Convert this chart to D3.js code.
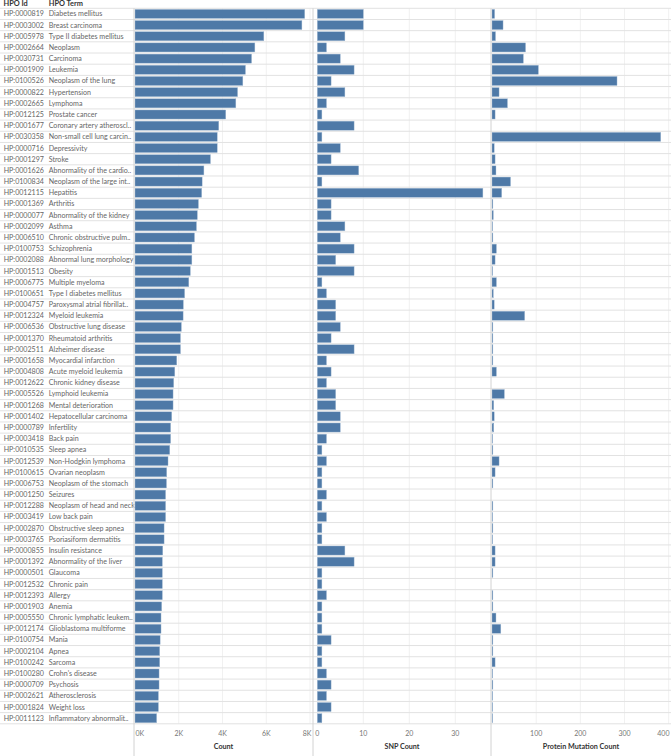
<!DOCTYPE html>
<html>
<head>
<meta charset="utf-8">
<script src="https://cdn.jsdelivr.net/npm/d3@7"></script>
<style>
  body { margin: 0; background: #fff; }
  text { font-family: Lato, "Open Sans", sans-serif; }
</style>
</head>
<body>
<svg id="chart" width="671" height="756"></svg>
<script>
const hpoIds = ['HP:0000819', 'HP:0003002', 'HP:0005978', 'HP:0002664', 'HP:0030731', 'HP:0001909', 'HP:0100526', 'HP:0000822',
    'HP:0002665', 'HP:0012125', 'HP:0001677', 'HP:0030358', 'HP:0000716', 'HP:0001297', 'HP:0001626', 'HP:0100834',
    'HP:0012115', 'HP:0001369', 'HP:0000077', 'HP:0002099', 'HP:0006510', 'HP:0100753', 'HP:0002088', 'HP:0001513',
    'HP:0006775', 'HP:0100651', 'HP:0004757', 'HP:0012324', 'HP:0006536', 'HP:0001370', 'HP:0002511', 'HP:0001658',
    'HP:0004808', 'HP:0012622', 'HP:0005526', 'HP:0001268', 'HP:0001402', 'HP:0000789', 'HP:0003418', 'HP:0010535',
    'HP:0012539', 'HP:0100615', 'HP:0006753', 'HP:0001250', 'HP:0012288', 'HP:0003419', 'HP:0002870', 'HP:0003765',
    'HP:0000855', 'HP:0001392', 'HP:0000501', 'HP:0012532', 'HP:0012393', 'HP:0001903', 'HP:0005550', 'HP:0012174',
    'HP:0100754', 'HP:0002104', 'HP:0100242', 'HP:0100280', 'HP:0000709', 'HP:0002621', 'HP:0001824', 'HP:0011123']

const hpoTerms = ['Diabetes mellitus', 'Breast carcinoma', 'Type II diabetes mellitus', 'Neoplasm', 'Carcinoma', 'Leukemia',
    'Neoplasm of the lung', 'Hypertension', 'Lymphoma', 'Prostate cancer', 'Coronary artery atheroscl..',
    'Non-small cell lung carcin..', 'Depressivity', 'Stroke', 'Abnormality of the cardio..', 'Neoplasm of the large int..',
    'Hepatitis', 'Arthritis', 'Abnormality of the kidney', 'Asthma', 'Chronic obstructive pulm..', 'Schizophrenia',
    'Abnormal lung morphology', 'Obesity', 'Multiple myeloma', 'Type I diabetes mellitus', 'Paroxysmal atrial fibrillat..',
    'Myeloid leukemia', 'Obstructive lung disease', 'Rheumatoid arthritis', 'Alzheimer disease', 'Myocardial infarction',
    'Acute myeloid leukemia', 'Chronic kidney disease', 'Lymphoid leukemia', 'Mental deterioration',
    'Hepatocellular carcinoma', 'Infertility', 'Back pain', 'Sleep apnea', 'Non-Hodgkin lymphoma', 'Ovarian neoplasm',
    'Neoplasm of the stomach', 'Seizures', 'Neoplasm of head and neck', 'Low back pain', 'Obstructive sleep apnea',
    'Psoriasiform dermatitis', 'Insulin resistance', 'Abnormality of the liver', 'Glaucoma', 'Chronic pain', 'Allergy',
    'Anemia', 'Chronic lymphatic leukem..', 'Glioblastoma multiforme', 'Mania', 'Apnea', 'Sarcoma', "Crohn's disease",
    'Psychosis', 'Atherosclerosis', 'Weight loss', 'Inflammatory abnormalit..']

const counts = [7760, 7630, 5890, 5480, 5330, 5050, 4930, 4690, 4610, 4150, 3830, 3760, 3760, 3450, 3150, 3070,
    3050, 2900, 2850, 2810, 2720, 2600, 2600, 2530, 2460, 2270, 2210, 2200, 2120, 2080, 2080, 1910,
    1820, 1770, 1740, 1740, 1680, 1630, 1630, 1590, 1510, 1450, 1440, 1400, 1400, 1400, 1330, 1330,
    1270, 1250, 1250, 1250, 1250, 1220, 1190, 1190, 1150, 1130, 1130, 1100, 1100, 1070, 1070, 990]

const snpCounts = [10, 10, 6, 2, 5, 8, 3, 6, 2, 1, 8, 1, 5, 3, 9, 1,
    36, 3, 3, 6, 5, 8, 4, 8, 1, 2, 4, 4, 5, 3, 8, 2,
    3, 2, 4, 4, 5, 5, 2, 1, 2, 1, 1, 2, 1, 2, 1, 1,
    6, 8, 1, 1, 2, 1, 1, 1, 3, 1, 1, 2, 3, 2, 3, 1]

const proteinCounts = [6, 25, 8, 76, 71, 105, 283, 16, 35, 7, 0, 382, 5, 7, 9, 42,
    22, 2, 3, 1, 2, 10, 7, 1, 10, 3, 5, 74, 2, 2, 2, 2,
    10, 0, 28, 4, 5, 4, 1, 2, 16, 7, 2, 0, 2, 1, 2, 1,
    7, 7, 2, 0, 2, 2, 9, 20, 2, 2, 7, 1, 2, 1, 1, 1]

const countTicks = [0, 2000, 4000, 6000, 8000]
const snpTicks = [0, 10, 20, 30]
const proteinTicks = [0, 100, 200, 300, 400]

const W = 671, H = 756
const ROW_TOP = 8.3, ROW_BOTTOM = 723.8
const BAR_COLOR = '#4e79a7'
const LINE_COLOR = '#e2e2e2'
const DIVIDER_COLOR = '#d2d2d2'
const GRID_COLOR = '#f1f1f1'

const rows = hpoIds.map((id, i) => ({
    id, term: hpoTerms[i], count: counts[i], snp: snpCounts[i], protein: proteinCounts[i]
}))

const svg = d3.select('#chart')

const y = d3.scaleBand()
    .domain(hpoIds)
    .range([ROW_TOP, ROW_BOTTOM])
    .paddingInner(0.19)
    .paddingOuter(0.095)
const step = y.step()

// panes: left/right edges plus the scale for each measure
const panes = [
    { key: 'count', title: 'Count', left: 134, right: 313, ticks: countTicks,
      x: d3.scaleLinear().domain([0, 8000]).range([135, 310]), fmt: d => d / 1000 + 'K', hideZero: false },
    { key: 'snp', title: 'SNP Count', left: 313, right: 491, ticks: snpTicks,
      x: d3.scaleLinear().domain([0, 30]).range([317.3, 455.3]), fmt: d => d, hideZero: false },
    { key: 'protein', title: 'Protein Mutation Count', left: 491, right: W, ticks: proteinTicks,
      x: d3.scaleLinear().domain([0, 400]).range([492, 668.7]), fmt: d => d, hideZero: true },
]

// Gridlines first so everything else sits on top
panes.forEach(p => {
    svg.append('g')
        .selectAll('line')
        .data(p.ticks.filter(t => t > 0))
        .join('line')
        .attr('x1', d => p.x(d)).attr('x2', d => p.x(d))
        .attr('y1', ROW_TOP).attr('y2', ROW_BOTTOM)
        .attr('stroke', GRID_COLOR)
        .attr('stroke-width', 1)
})

// Row separators across the whole table
svg.append('g')
    .selectAll('line')
    .data(d3.range(hpoIds.length + 1))
    .join('line')
    .attr('x1', 0).attr('x2', W)
    .attr('y1', i => ROW_TOP + i * step)
    .attr('y2', i => ROW_TOP + i * step)
    .attr('stroke', LINE_COLOR)
    .attr('stroke-width', 1)

// Headers
const header = svg.append('g')
    .attr('font-size', 7.4)
    .attr('font-weight', 'bold')
    .attr('fill', '#333')
header.append('text').attr('x', 3.5).attr('y', 6).text('HPO Id')
header.append('text').attr('x', 48.7).attr('y', 6).text('HPO Term')

// Row labels
const labels = svg.append('g')
    .attr('font-size', 7.1)
    .attr('fill', '#666')
labels.selectAll('text.id')
    .data(rows)
    .join('text')
    .attr('class', 'id')
    .attr('x', 3.7)
    .attr('y', d => y(d.id) + y.bandwidth() / 2)
    .attr('dy', '0.35em')
    .text(d => d.id)
labels.selectAll('text.term')
    .data(rows)
    .join('text')
    .attr('class', 'term')
    .attr('x', 48.7)
    .attr('y', d => y(d.id) + y.bandwidth() / 2)
    .attr('dy', '0.35em')
    .text(d => d.term)

// Bars
panes.forEach(p => {
    svg.append('g')
        .selectAll('rect')
        .data(rows.filter(d => d[p.key] > 0))
        .join('rect')
        .attr('x', p.x(0))
        .attr('y', d => y(d.id))
        .attr('width', d => Math.max(0.6, p.x(d[p.key]) - p.x(0)))
        .attr('height', y.bandwidth())
        .attr('fill', BAR_COLOR)
        .attr('stroke', '#a9bfd6')
        .attr('stroke-width', 0.4)
})

// Pane dividers
svg.append('g')
    .selectAll('line')
    .data(panes)
    .join('line')
    .attr('x1', p => p.left).attr('x2', p => p.left)
    .attr('y1', ROW_TOP).attr('y2', H)
    .attr('stroke', DIVIDER_COLOR)
    .attr('stroke-width', 1)

// Axes at the bottom
panes.forEach(p => {
    const g = svg.append('g')
    g.selectAll('text')
        .data(p.ticks.filter(t => !(p.hideZero && t === 0)))
        .join('text')
        .attr('font-size', 7)
        .attr('fill', '#777')
        .attr('y', 736)
        .attr('text-anchor', 'middle')
        .text(p.fmt)
        .each(function (d) {
            // keep edge labels inside the pane like Tableau does
            const w = this.getComputedTextLength()
            let cx = p.x(d)
            cx = Math.max(p.left + 1.5 + w / 2, Math.min(p.right - 1.5 - w / 2, cx))
            d3.select(this).attr('x', cx)
        })
    g.append('text')
        .attr('x', (p.left + p.right) / 2)
        .attr('y', 749)
        .attr('text-anchor', 'middle')
        .attr('font-size', 7.2)
        .attr('font-weight', 'bold')
        .attr('fill', '#333')
        .text(p.title)
})
</script>
</body>
</html>
